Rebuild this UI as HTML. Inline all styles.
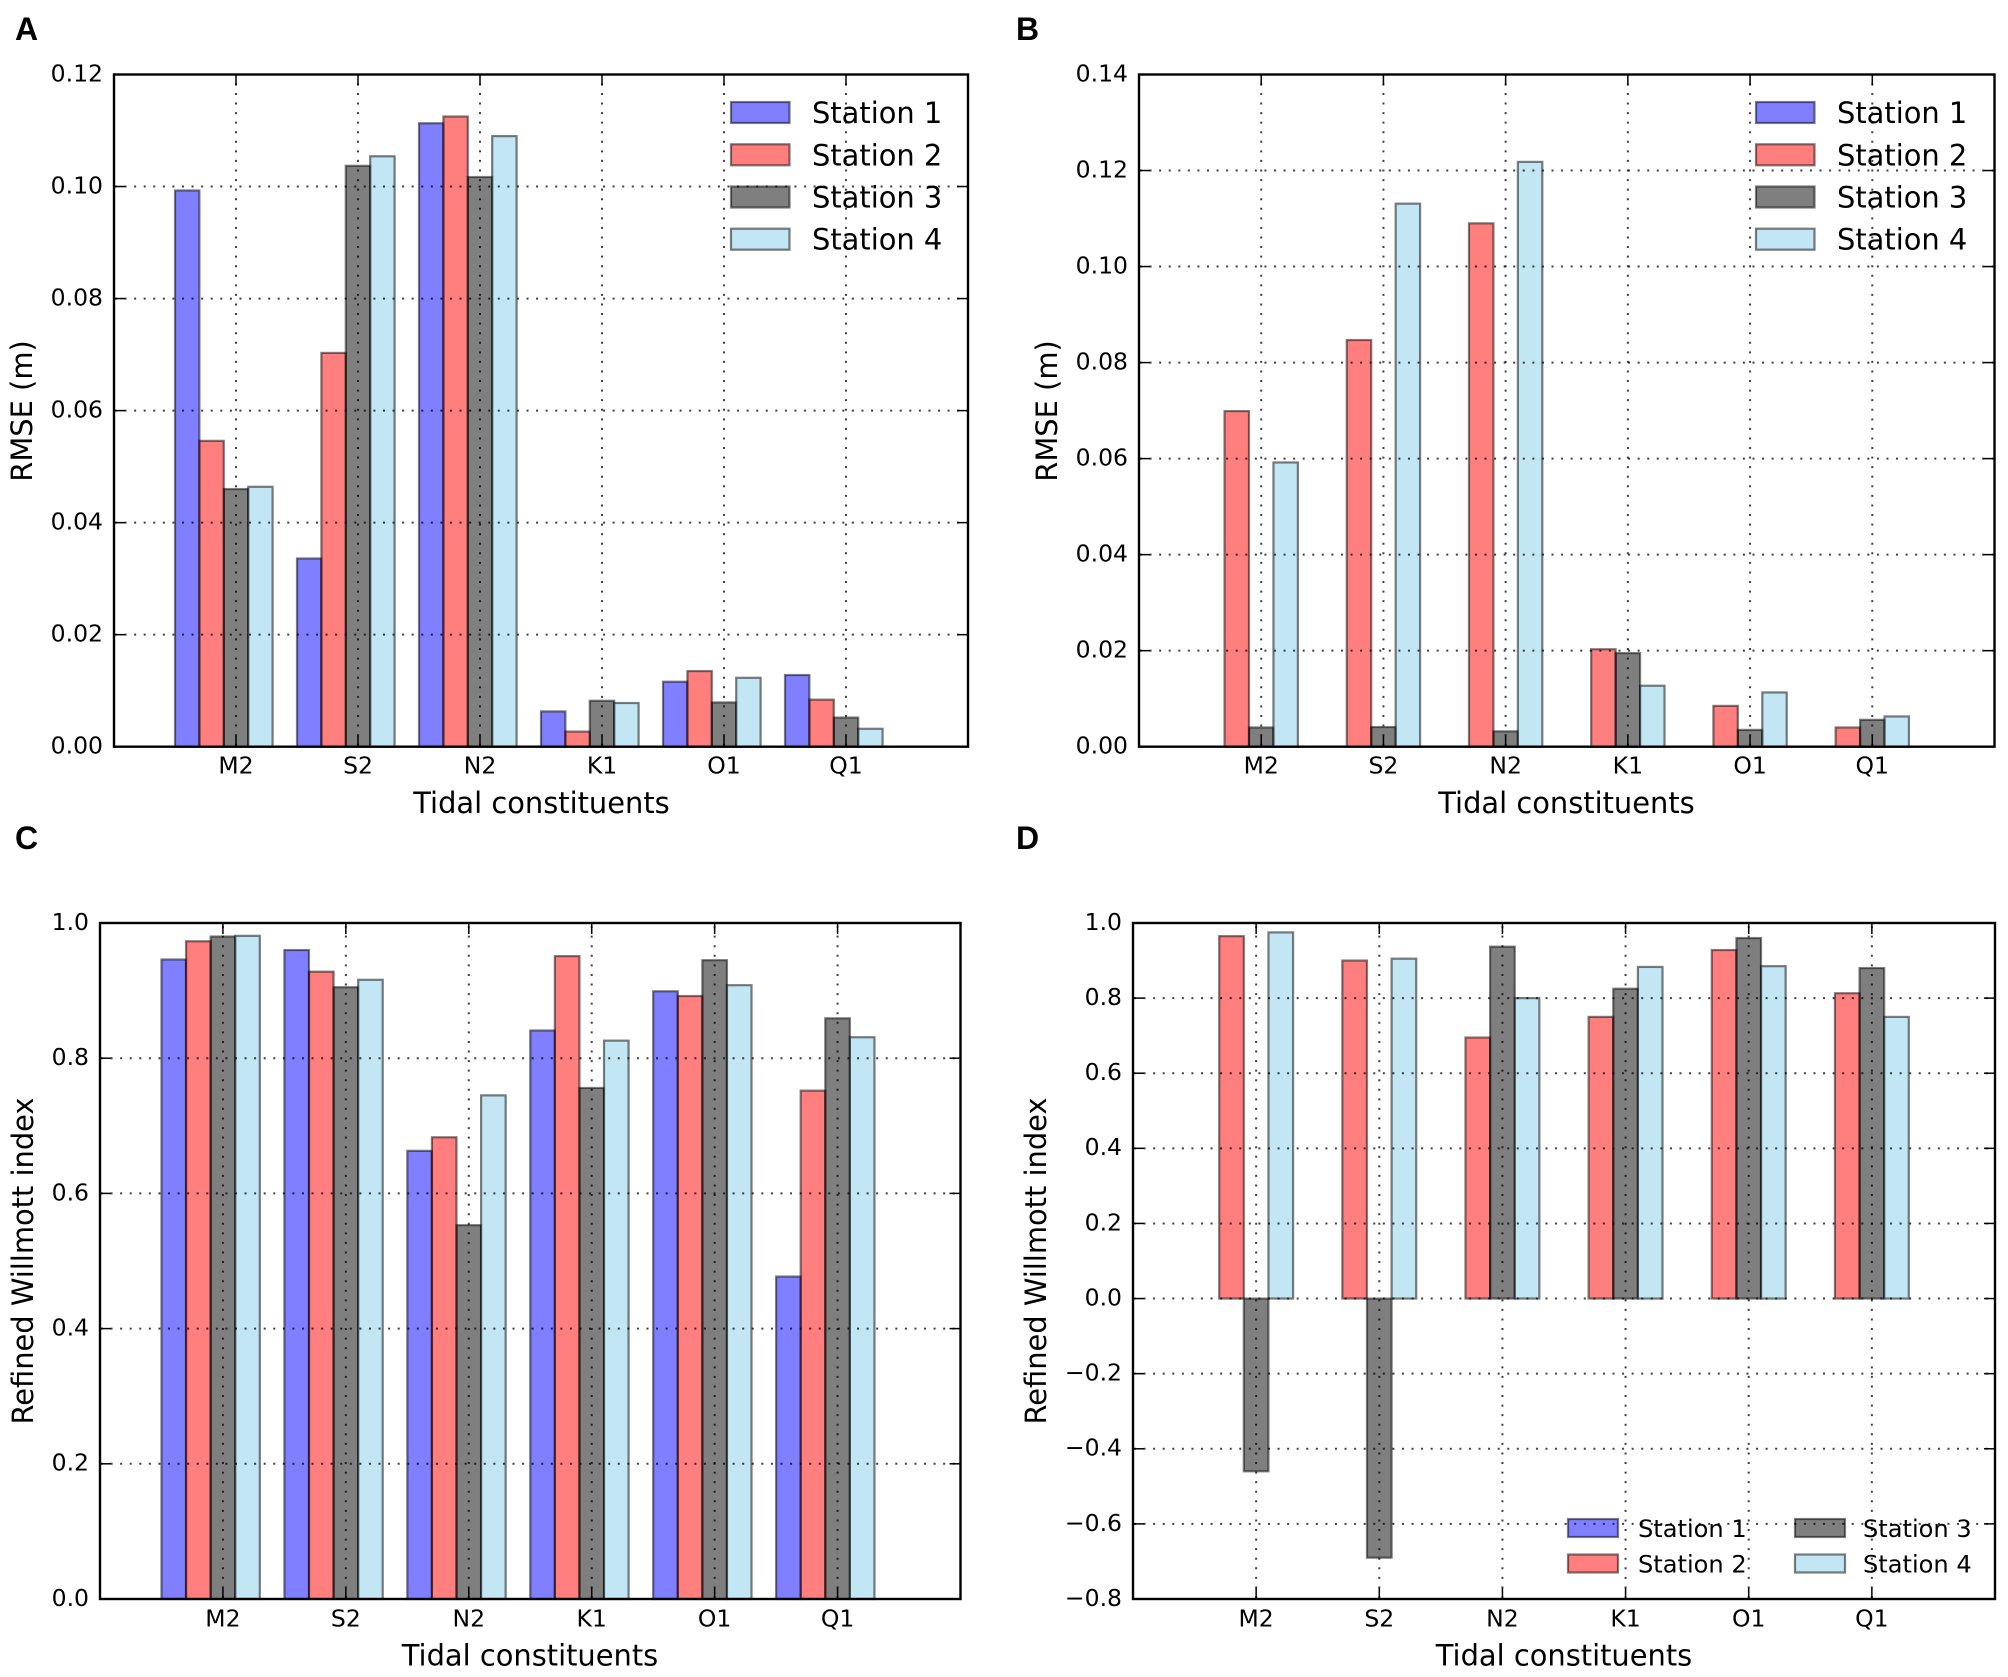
<!DOCTYPE html>
<html lang="en">
<head>
<meta charset="utf-8">
<title>Tidal constituents RMSE and Willmott index</title>
<style>
html,body{margin:0;padding:0;background:#fff;}
svg{display:block;}
text{font-family:"DejaVu Sans",sans-serif;fill:#000;}
.letter{font-family:"Liberation Sans",sans-serif;font-weight:bold;font-size:32px;}
.xt{font-size:23.5px;text-anchor:middle;}
.yt{font-size:23.5px;text-anchor:end;}
.lab{font-size:28.9px;text-anchor:middle;}
</style>
</head>
<body>
<svg id="fig" xmlns="http://www.w3.org/2000/svg" width="2008" height="1677" viewBox="0 0 2008 1677">
<rect x="0" y="0" width="2008" height="1677" fill="#fff"/>
<g id="panelA"></g>
<g id="panelB"></g>
<g id="panelC"></g>
<g id="panelD"></g>
<text class="letter" x="15" y="40">A</text>
<text class="letter" x="1016" y="40">B</text>
<text class="letter" x="15" y="849">C</text>
<text class="letter" x="1016" y="849">D</text>
<text class="lab" x="541.5" y="813">Tidal constituents</text>
<text class="lab" x="1566.5" y="813">Tidal constituents</text>
<text class="lab" x="530" y="1665.5">Tidal constituents</text>
<text class="lab" x="1564" y="1665.5">Tidal constituents</text>
<text class="lab" transform="translate(32 411) rotate(-90)">RMSE (m)</text>
<text class="lab" transform="translate(1057 411) rotate(-90)">RMSE (m)</text>
<text class="lab" transform="translate(33 1261) rotate(-90)">Refined Willmott index</text>
<text class="lab" transform="translate(1046 1261) rotate(-90)">Refined Willmott index</text>
</svg>
<script>
const categories = ['M2', 'S2', 'N2', 'K1', 'O1', 'Q1'];
const stationNames = ['Station 1', 'Station 2', 'Station 3', 'Station 4'];

const yTickLabelsA = ['0.00', '0.02', '0.04', '0.06', '0.08', '0.10', '0.12'];
const station1A = [0.0993, 0.0336, 0.1113, 0.0063, 0.0116, 0.0128];
const station2A = [0.0546, 0.0703, 0.1125, 0.0027, 0.0135, 0.0084];
const station3A = [0.0460, 0.1037, 0.1017, 0.0082, 0.0079, 0.0052];
const station4A = [0.0464, 0.1054, 0.1090, 0.0078, 0.0123, 0.0032];

const yTickLabelsB = ['0.00', '0.02', '0.04', '0.06', '0.08', '0.10', '0.12', '0.14'];
const station1B = [null, null, null, null, null, null];
const station2B = [0.0699, 0.0847, 0.1090, 0.0203, 0.0085, 0.0040];
const station3B = [0.0040, 0.0041, 0.0032, 0.0195, 0.0035, 0.0056];
const station4B = [0.0592, 0.1131, 0.1218, 0.0127, 0.0113, 0.0063];

const yTickLabelsC = ['0.0', '0.2', '0.4', '0.6', '0.8', '1.0'];
const station1C = [0.946, 0.960, 0.663, 0.841, 0.899, 0.477];
const station2C = [0.973, 0.928, 0.683, 0.951, 0.892, 0.752];
const station3C = [0.980, 0.905, 0.553, 0.756, 0.945, 0.859];
const station4C = [0.981, 0.916, 0.745, 0.826, 0.908, 0.831];

const yTickLabelsD = ['\u22120.8', '\u22120.6', '\u22120.4', '\u22120.2', '0.0', '0.2', '0.4', '0.6', '0.8', '1.0'];
const station1D = [null, null, null, null, null, null];
const station2D = [0.965, 0.900, 0.695, 0.750, 0.928, 0.813];
const station3D = [-0.460, -0.690, 0.937, 0.825, 0.960, 0.880];
const station4D = [0.975, 0.905, 0.800, 0.883, 0.885, 0.750];

const NS = 'http://www.w3.org/2000/svg';
const fills = ['#0000ff', '#ff0000', '#000000', '#87ceeb'];

function mk(parent, tag, attrs, txt) {
  const el = document.createElementNS(NS, tag);
  for (const k in attrs) el.setAttribute(k, attrs[k]);
  if (txt !== undefined) el.textContent = txt;
  parent.appendChild(el);
  return el;
}
function tickValue(label) {
  return Number(label.replace('\u2212', '-'));
}

function drawPanel(id, box, series, yLabels, legend) {
  const root = document.getElementById(id);
  const xMin = 0, xMax = 7;
  const yVals = yLabels.map(tickValue);
  const yMin = yVals[0], yMax = yVals[yVals.length - 1];
  const sx = v => box.L + (v - xMin) / (xMax - xMin) * (box.R - box.L);
  const sy = v => box.B - (v - yMin) / (yMax - yMin) * (box.B - box.T);

  // bars
  series.forEach((vals, s) => {
    vals.forEach((v, c) => {
      if (v === null) return;
      const x0 = sx(c + 0.5 + 0.2 * s), x1 = sx(c + 0.7 + 0.2 * s);
      const y0 = sy(Math.max(v, 0)), y1 = sy(Math.min(v, 0));
      const bar = mk(root, 'rect', {
        x: x0, y: y0, width: x1 - x0, height: y1 - y0,
        fill: fills[s], 'fill-opacity': 0.5,
        stroke: '#000', 'stroke-opacity': 0.5, 'stroke-width': 2.2
      });
      
      
    });
  });

  // vertical grid, ticks, and labels
  categories.forEach((name, c) => {
    const x = sx(c + 1);
    const grid = mk(root, 'line', {
      x1: x, x2: x, y1: box.B, y2: box.T,
      stroke: '#000', 'stroke-opacity': 0.75, 'stroke-width': 2, 'stroke-dasharray': '2 7.57', 'stroke-dashoffset': -1
    });
    
    
    const t1 = mk(root, 'line', { x1: x, x2: x, y1: box.B, y2: box.B - 11, stroke: '#000', 'stroke-width': 1.5 });
    
    
    const t2 = mk(root, 'line', { x1: x, x2: x, y1: box.T, y2: box.T + 11, stroke: '#000', 'stroke-width': 1.5 });
    
    
    const lab = mk(root, 'text', { class: 'xt', x: x, y: box.B + box.xPad }, name);
    
    
  });

  // horizontal grid, ticks, and labels
  yLabels.forEach((label, i) => {
    const y = sy(yVals[i]);
    if (i > 0 && i < yLabels.length - 1) {
      const grid = mk(root, 'line', {
        x1: box.L, x2: box.R, y1: y, y2: y,
        stroke: '#000', 'stroke-opacity': 0.75, 'stroke-width': 2, 'stroke-dasharray': '2 7.57', 'stroke-dashoffset': -1
      });
      
      
    }
    const t1 = mk(root, 'line', { x1: box.L, x2: box.L + 11, y1: y, y2: y, stroke: '#000', 'stroke-width': 1.5 });
    
    
    const t2 = mk(root, 'line', { x1: box.R, x2: box.R - 11, y1: y, y2: y, stroke: '#000', 'stroke-width': 1.5 });
    
    
    const lab = mk(root, 'text', { class: 'yt', x: box.L - 11, y: y + 6.9 }, label);
    
    
  });

  // plot frame
  const frame = mk(root, 'rect', {
    x: box.L, y: box.T, width: box.R - box.L, height: box.B - box.T,
    fill: 'none', stroke: '#000', 'stroke-width': 2.4
  });
  
  

  // legend
  legend.entries.forEach((e, s) => {
    const g = mk(root, 'g', {});
    
    
    const sw = mk(g, 'rect', {
      x: e.x, y: e.y - legend.h, width: legend.w, height: legend.h,
      fill: fills[s], 'fill-opacity': 0.5,
      stroke: '#000', 'stroke-opacity': 0.5, 'stroke-width': 2.2
    });
    
    
    const tx = mk(g, 'text', { x: e.x + e.gap, y: e.y, 'font-size': legend.size }, stationNames[s]);
    
    
  });
}

const rowsA = [123, 165.3, 207.5, 249.7];
drawPanel('panelA', { L: 114, R: 968, T: 74.5, B: 746.7, xPad: 26.7 },
  [station1A, station2A, station3A, station4A], yTickLabelsA,
  { w: 58.5, h: 21, size: 28.9, entries: rowsA.map(y => ({ x: 731, y: y, gap: 81 })) });

drawPanel('panelB', { L: 1139, R: 1994.5, T: 74.5, B: 746.7, xPad: 26.7 },
  [station1B, station2B, station3B, station4B], yTickLabelsB,
  { w: 58.5, h: 21, size: 28.9, entries: rowsA.map(y => ({ x: 1756, y: y, gap: 81 })) });

drawPanel('panelC', { L: 100, R: 960.5, T: 923, B: 1599, xPad: 27.7 },
  [station1C, station2C, station3C, station4C], yTickLabelsC,
  { w: 0, h: 0, size: 0, entries: [] });

drawPanel('panelD', { L: 1133, R: 1995, T: 923, B: 1599, xPad: 27.7 },
  [station1D, station2D, station3D, station4D], yTickLabelsD,
  { w: 50, h: 18, size: 24.1, entries: [
    { x: 1568, y: 1537, gap: 70 }, { x: 1568, y: 1572.5, gap: 70 },
    { x: 1795, y: 1537, gap: 68 }, { x: 1795, y: 1572.5, gap: 68 }
  ] });
</script>
</body>
</html>
